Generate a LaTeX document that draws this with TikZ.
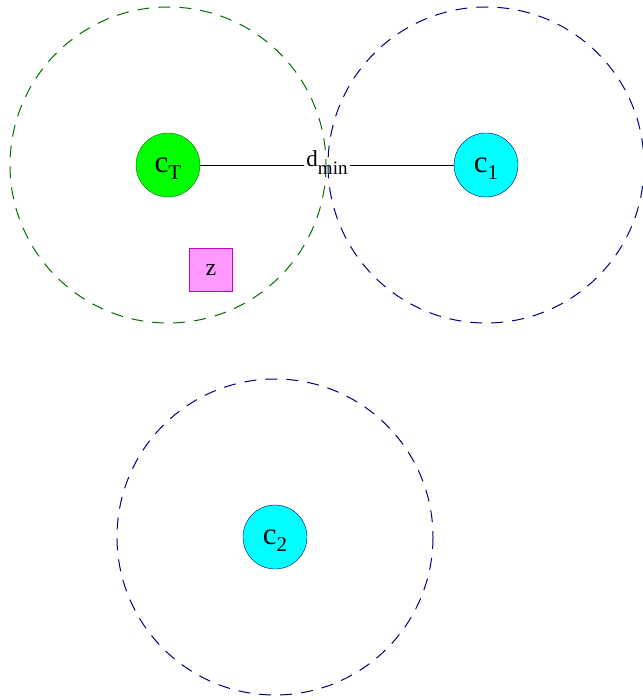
\documentclass[tikz,border=0pt]{standalone}
\usepackage{fontspec}
\setmainfont{Liberation Serif}
\definecolor{ccyan}{RGB}{0,255,255}
\definecolor{cgreen}{RGB}{0,255,0}
\definecolor{cnavy}{RGB}{0,0,128}
\definecolor{cdkgreen}{RGB}{0,110,0}
\definecolor{cpink}{RGB}{255,153,255}
\definecolor{cmag}{RGB}{200,0,200}
\newcommand{\lbl}[2]{{\fontsize{31}{31}\selectfont #1}\raisebox{-7pt}[0pt][0pt]{\fontsize{21}{21}\selectfont #2}}
\begin{document}
\begin{tikzpicture}[x=1pt,y=-1pt]
	\useasboundingbox (0,0)rectangle(642,700);
	\tikzset{ctr/.style={circle,draw=cnavy,fill=ccyan,minimum size=64pt,inner sep=0pt},
	rng/.style={dash pattern=on 12pt off 9pt,line width=1pt}}
	\path(168,165)node[ctr,fill=cgreen,draw=cdkgreen](cT){\lbl{c}{T}}
	(486,165)node[ctr](c1){\lbl{c}{1}}
	(275,537)node[ctr](c2){\lbl{c}{2}};
	\node[draw=cmag,fill=cpink,minimum size=43pt,inner sep=0pt,font=\fontsize{24}{24}\selectfont] (z) at (211,270) {z};
	\draw[rng,cdkgreen](cT)circle(158);
	\foreach \c in{c1,c2}
	\draw[rng,cnavy](\c)circle(158);
	\node[inner sep=2pt,anchor=base](dmin) at (327,167){{\fontsize{23}{23}\selectfont d}\raisebox{-8pt}[0pt][0pt]{\fontsize{19}{19}\selectfont min}};
	\draw(cT)--(cT-|dmin.west) (dmin.east|-c1)--(c1);
\end{tikzpicture}
\end{document}
